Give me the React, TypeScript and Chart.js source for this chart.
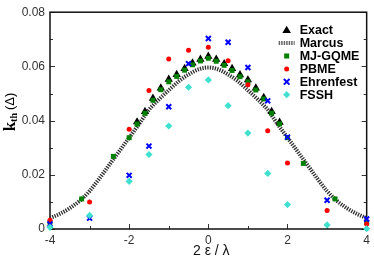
import React, { useEffect, useRef } from 'react';
import { Chart, registerables } from 'chart.js';
Chart.register(...registerables);

// ---- data (x = 2ε/λ, y = k_th in units of Δ) ----
const marcusX = [-4, -3.75, -3.5, -3.25, -3, -2.75, -2.5, -2.25, -2, -1.75, -1.5, -1.25, -1, -0.75, -0.5, -0.25, 0,
  0.25, 0.5, 0.75, 1, 1.25, 1.5, 1.75, 2, 2.25, 2.5, 2.75, 3, 3.25, 3.5, 3.75, 4];
const marcusY = [0.0040, 0.0056, 0.0077, 0.0104, 0.0140, 0.0187, 0.0237, 0.0287, 0.0337, 0.0387, 0.0440, 0.0478, 0.0512, 0.0545, 0.0570, 0.0589, 0.0596,
  0.0589, 0.0570, 0.0545, 0.0512, 0.0478, 0.0440, 0.0387, 0.0337, 0.0287, 0.0237, 0.0187, 0.0140, 0.0104, 0.0077, 0.0056, 0.0040];

const exactX = [-1.8, -1.6, -1.4, -1.2, -1.0, -0.8, -0.6, -0.4, -0.2, 0, 0.2, 0.4, 0.6, 0.8, 1.0, 1.2, 1.4, 1.6, 1.8];
const exactY = [0.0395, 0.0433, 0.0482, 0.0520, 0.0552, 0.0570, 0.0592, 0.0612, 0.0626, 0.0637, 0.0626, 0.0610, 0.0592, 0.0569, 0.0550, 0.0520, 0.0485, 0.0433, 0.0394];

const mjX = [-4, -3.2, -2.4, -2, -1.8, -1.6, -1.4, -1.2, -1.0, -0.8, -0.6, -0.4, -0.2, 0, 0.2, 0.4, 0.6, 0.8, 1.0, 1.2, 1.4, 1.6, 1.8, 2, 2.4, 3.2, 4];
const mjY = [0.0025, 0.0111, 0.0268, 0.0337, 0.0387, 0.0427, 0.0475, 0.0514, 0.0543, 0.0563, 0.0586, 0.0606, 0.0620, 0.0630, 0.0619, 0.0604, 0.0585, 0.0562, 0.0543, 0.0513, 0.0480, 0.0427, 0.0388, 0.0337, 0.0242, 0.0111, 0.0024];

const methodX = [-4, -3, -2, -1.5, -1, -0.5, 0, 0.5, 1, 1.5, 2, 3, 4];
const pbmeY = [0.0032, 0.0100, 0.0368, 0.0511, 0.0627, 0.0660, 0.0671, 0.0621, 0.0532, 0.0363, 0.0244, 0.0068, 0.0018];
const ehrenfestY = [0.0018, 0.0040, 0.0198, 0.0306, 0.0451, 0.0610, 0.0703, 0.0689, 0.0596, 0.0473, 0.0339, 0.0106, 0.0037];
const fsshY = [0.0006, 0.0050, 0.0176, 0.0275, 0.0380, 0.0523, 0.0550, 0.0455, 0.0354, 0.0205, 0.0090, 0.0015, 0.0001];

const xTicks = [-4, -3, -2, -1, 0, 1, 2, 3, 4];
const yTicks = [0, 0.01, 0.02, 0.03, 0.04, 0.05, 0.06, 0.07, 0.08];
const legendLabels = ['Exact', 'Marcus', 'MJ-GQME', 'PBME', 'Ehrenfest', 'FSSH'];

const pts = (xs: number[], ys: number[]) => xs.map((x, i) => ({ x, y: ys[i] }));

const COLORS = {
  exact: '#000000',
  marcus: '#2e2e2e',
  mj: '#008000',
  pbme: '#ff0000',
  ehr: '#0000ff',
  fssh: '#40e0d0',
};

function drawMarker(ctx: CanvasRenderingContext2D, kind: string, x: number, y: number, color: string) {
  ctx.save();
  ctx.fillStyle = color;
  ctx.strokeStyle = color;
  if (kind === 'triangle') {
    const r = 4.5;
    ctx.beginPath();
    ctx.moveTo(x, y - r);
    ctx.lineTo(x + r * 0.866 * 1.1, y + r * 0.6);
    ctx.lineTo(x - r * 0.866 * 1.1, y + r * 0.6);
    ctx.closePath();
    ctx.fill();
  } else if (kind === 'line') {
    ctx.strokeStyle = '#666';
    ctx.lineWidth = 4;
    ctx.setLineDash([1.5, 1]);
    ctx.beginPath();
    ctx.moveTo(x - 8, y);
    ctx.lineTo(x + 8, y);
    ctx.stroke();
  } else if (kind === 'rect') {
    ctx.fillRect(x - 2.5, y - 2.5, 5, 5);
  } else if (kind === 'circle') {
    ctx.beginPath();
    ctx.arc(x, y, 2.5, 0, Math.PI * 2);
    ctx.fill();
  } else if (kind === 'crossRot') {
    ctx.lineWidth = 2;
    const r = 2.8;
    ctx.beginPath();
    ctx.moveTo(x - r, y - r); ctx.lineTo(x + r, y + r);
    ctx.moveTo(x + r, y - r); ctx.lineTo(x - r, y + r);
    ctx.stroke();
  } else if (kind === 'rectRot') {
    const r = 3.6;
    ctx.beginPath();
    ctx.moveTo(x, y - r); ctx.lineTo(x + r, y); ctx.lineTo(x, y + r); ctx.lineTo(x - r, y);
    ctx.closePath();
    ctx.fill();
  }
  ctx.restore();
}

const framePlugin = {
  id: 'frameTicks',
  beforeDatasetsDraw(chart: any) {
    const { ctx, chartArea: a, scales } = chart;
    const xs = scales.x, ys = scales.y;
    ctx.save();
    ctx.strokeStyle = '#333';
    ctx.lineWidth = 1;
    ctx.beginPath();
    yTicks.forEach((v, i) => {
      const py = Math.round(ys.getPixelForValue(v)) + 0.5;
      const len = i % 2 === 0 ? 5 : 3;
      ctx.moveTo(a.left, py); ctx.lineTo(a.left + len, py);
      ctx.moveTo(a.right, py); ctx.lineTo(a.right - len, py);
    });
    xTicks.forEach((v, i) => {
      const px = Math.round(xs.getPixelForValue(v)) + 0.5;
      const len = i % 2 === 0 ? 5 : 3;
      ctx.moveTo(px, a.bottom); ctx.lineTo(px, a.bottom - len);
    });
    ctx.stroke();
    ctx.strokeStyle = '#111';
    ctx.lineWidth = 1.5;
    ctx.strokeRect(a.left, a.top, a.right - a.left, a.bottom - a.top);
    ctx.restore();
  },
  afterDraw(chart: any) {
    const { ctx, chartArea: a } = chart;
    ctx.save();
    // legend
    const kinds = ['triangle', 'line', 'rect', 'circle', 'crossRot', 'rectRot'];
    const cols = [COLORS.exact, COLORS.marcus, COLORS.mj, COLORS.pbme, COLORS.ehr, COLORS.fssh];
    const mx = a.right - 80;
    const tx = a.right - 67;
    ctx.font = 'bold 12.5px "Liberation Sans", Arial, sans-serif';
    ctx.textBaseline = 'middle';
    ctx.textAlign = 'left';
    legendLabels.forEach((lab, i) => {
      const y = a.top + 18 + i * 12.9;
      drawMarker(ctx, kinds[i], mx, y, cols[i]);
      ctx.fillStyle = '#000';
      ctx.fillText(lab, tx, y + 0.5);
    });
    // x title
    ctx.font = '14px "Liberation Sans", Arial, sans-serif';
    ctx.textAlign = 'center';
    ctx.fillStyle = '#111';
    ctx.fillText('2 ε / λ', (a.left + a.right) / 2 + 3, 251);
    // y title
    ctx.translate(0, 112);
    ctx.rotate(-Math.PI / 2);
    ctx.textAlign = 'left';
    ctx.textBaseline = 'alphabetic';
    const fk = 'bold 17px "Liberation Serif", "Times New Roman", serif';
    const fth = 'bold 10px "Liberation Serif", "Times New Roman", serif';
    const fd = '13px "Liberation Sans", Arial, sans-serif';
    ctx.font = fk; const wk = ctx.measureText('k').width;
    ctx.font = fth; const wth = ctx.measureText('th').width;
    ctx.font = fd; const wd = ctx.measureText('(Δ)').width;
    const gap = 3;
    let sx = -(wk + wth + gap + wd) / 2;
    const base = 15;
    ctx.fillStyle = '#000';
    ctx.font = fk; ctx.fillText('k', sx, base); sx += wk;
    ctx.font = fth; ctx.fillText('th', sx, base + 2); sx += wth + gap;
    ctx.font = fd; ctx.fillText('(Δ)', sx, base - 1);
    ctx.restore();
  },
};

export default function App() {
  const ref = useRef<HTMLCanvasElement | null>(null);
  useEffect(() => {
    if (!ref.current) return;
    const chart = new Chart(ref.current, {
      type: 'scatter',
      data: {
        datasets: [
          { label: 'FSSH', data: pts(methodX, fsshY), pointStyle: 'rectRot', pointRadius: 3.6, backgroundColor: COLORS.fssh, borderColor: COLORS.fssh, borderWidth: 0, order: 1, clip: false } as any,
          { label: 'Ehrenfest', data: pts(methodX, ehrenfestY), pointStyle: 'crossRot', pointRadius: 3.5, borderColor: COLORS.ehr, backgroundColor: COLORS.ehr, borderWidth: 2, order: 2, clip: false } as any,
          { label: 'PBME', data: pts(methodX, pbmeY), pointStyle: 'circle', pointRadius: 2.5, backgroundColor: COLORS.pbme, borderColor: COLORS.pbme, borderWidth: 0, order: 3, clip: false } as any,
          { label: 'MJ-GQME', data: pts(mjX, mjY), pointStyle: 'rect', pointRadius: 3.5, backgroundColor: COLORS.mj, borderColor: COLORS.mj, borderWidth: 0, order: 4, clip: false } as any,
          { label: 'Exact', data: pts(exactX, exactY), pointStyle: 'triangle', pointRadius: 4.8, backgroundColor: COLORS.exact, borderColor: COLORS.exact, borderWidth: 0, order: 5, clip: false } as any,
          { label: 'Marcus', type: 'line', data: pts(marcusX, marcusY), showLine: true, pointRadius: 0, borderColor: COLORS.marcus, borderWidth: 4, borderDash: [1.3, 1.2], cubicInterpolationMode: 'monotone', fill: false, order: 6, clip: false } as any,
        ],
      },
      options: {
        animation: false,
        responsive: false,
        devicePixelRatio: 1,
        layout: { padding: { top: 5, right: 4, left: 0, bottom: 0 } },
        plugins: { legend: { display: false }, tooltip: { enabled: false } },
        scales: {
          x: {
            type: 'linear', min: -4, max: 4,
            grid: { display: false, drawTicks: false },
            border: { display: false },
            ticks: { stepSize: 2, padding: 4, color: '#333', font: { family: '"Liberation Sans", Arial, sans-serif', size: 12 } },
            afterFit: (s: any) => { s.height = 29; },
          },
          y: {
            type: 'linear', min: 0, max: 0.08,
            grid: { display: false, drawTicks: false },
            border: { display: false },
            ticks: {
              stepSize: 0.02, padding: 5, color: '#333',
              font: { family: '"Liberation Sans", Arial, sans-serif', size: 12 },
              callback: (v: any) => (Math.abs(v) < 1e-9 ? '0' : Number(v).toFixed(2)),
            },
            afterFit: (s: any) => { s.width = 50; },
          },
        },
      } as any,
      plugins: [framePlugin],
    });
    return () => chart.destroy();
  }, []);
  return (
    <div style={{ position: 'fixed', left: 0, top: 0, width: 374, height: 258, background: '#fff' }}>
      <canvas ref={ref} width={374} height={258} style={{ display: 'block' }} />
    </div>
  );
}
